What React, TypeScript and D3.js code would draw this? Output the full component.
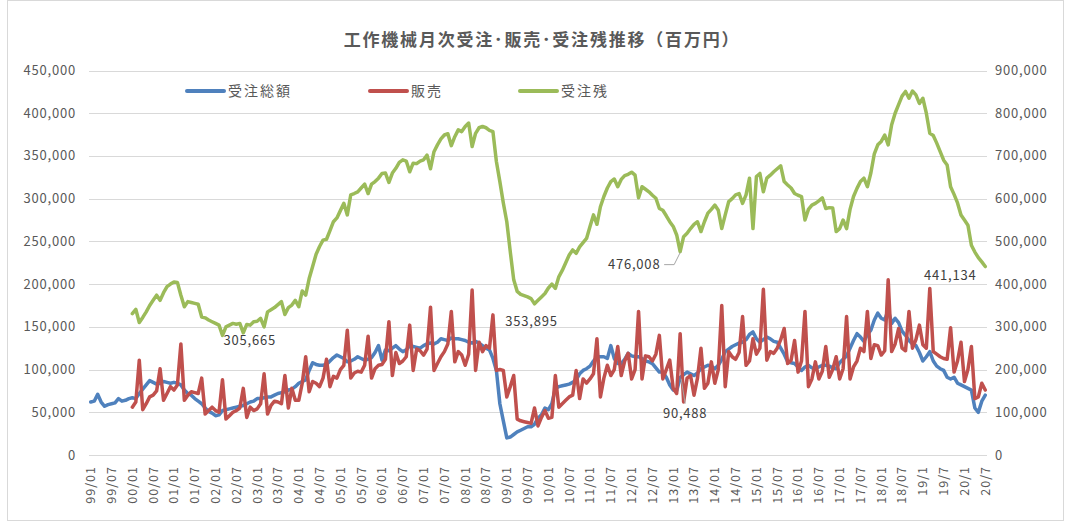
import React, { useEffect, useRef } from "react";
import * as d3 from "d3";

// 単位: 千(百万円)  -> 描画時に x1000
// 受注総額 1999/01 - 2020/07
const orders = [
  62, 63, 71, 62, 57, 59, 60, 61, 66, 63, 64, 66,
  67, 66, 72, 77, 82, 87, 85, 83, 84, 86, 85, 84,
  85, 84, 82, 76, 72, 70, 66, 63, 60, 55, 51, 49,
  46, 47, 52, 53, 54, 55, 56, 57, 58, 60, 62, 63,
  66, 66, 67, 68, 68, 70, 72, 73, 74, 76, 77, 80,
  84, 86, 88, 99, 108, 106, 105, 105, 106, 110, 114, 117,
  115, 113, 109, 110, 112, 115, 113, 111, 112, 114, 120, 128,
  111, 123, 122, 125, 128, 124, 121, 123, 128, 127, 126, 125,
  128, 130, 131, 130, 132, 136, 135, 134, 137, 136, 136, 135,
  134, 132, 131, 133, 131, 128, 125, 123, 113, 99, 60, 40,
  20, 21, 24, 27, 29, 31, 33, 33, 36, 43, 47, 55,
  53, 60, 78, 80, 81, 82, 83, 85, 88, 95, 99, 101,
  104, 110, 115, 115, 115, 113, 128, 113, 107, 107, 112, 119,
  116, 115, 115, 113, 110, 109, 107, 102, 97, 97, 91, 82,
  76, 75, 90.488, 94, 97, 95, 93, 96, 101, 103, 105, 104,
  101, 105, 112, 121, 124, 127, 129, 131, 132, 135, 141, 144,
  136, 132, 135, 138, 136, 133, 132, 125, 118, 109, 108, 107,
  103, 99, 103, 105, 102, 101, 103, 105, 105, 104, 102, 101,
  108, 112, 116, 125, 134, 142, 138, 133, 141, 146, 158, 166,
  160, 158, 170, 154, 160, 155, 145, 140, 134, 130, 128, 120,
  110, 115, 121, 110, 104, 101, 99, 91, 89, 91, 84, 82,
  80, 78, 76, 55, 50, 63, 70,
];

// 販売 2000/01 - 2020/07
const sales = [
  56, 62, 111, 53, 60, 68, 70, 75, 101, 64, 72, 80,
  76, 82, 130, 64, 70, 74, 73, 72, 90, 48, 52, 56,
  52, 50, 88, 42, 46, 50, 52, 55, 78, 44, 56, 52,
  54, 60, 95, 48, 58, 63, 62, 60, 93, 55, 78, 64,
  64, 84, 115, 74, 86, 84, 80, 90, 112, 80, 92, 90,
  100, 105, 146, 90, 96, 98, 97, 105, 139, 90, 101, 105,
  106, 112, 156, 93, 120, 107, 110, 115, 152, 99, 124, 122,
  117, 124, 173, 99, 107, 115, 121, 130, 168, 109, 121, 117,
  105, 118, 193, 99, 132, 121, 128, 125, 164, 99, 100, 99,
  68, 80, 93, 42, 40, 39, 38, 37, 55, 34, 44, 52,
  43, 44, 93, 56, 60, 64, 68, 70, 99, 66, 89, 84,
  89, 95, 136, 68, 90, 105, 93, 100, 127, 93, 110, 119,
  89, 100, 168, 89, 116, 115, 110, 118, 140, 89, 100, 111,
  78, 72, 142, 62, 90, 93, 70, 90, 125, 78, 84, 109,
  84, 100, 175, 80, 121, 115, 112, 120, 162, 105, 110, 136,
  118, 125, 194, 111, 121, 119, 125, 135, 148, 107, 111, 134,
  97, 110, 168, 80, 89, 109, 89, 98, 127, 91, 100, 115,
  89, 101, 162, 89, 103, 110, 125, 121, 168, 113, 129, 128,
  117, 122, 205, 121, 130, 148, 125, 122, 168, 125, 135, 152,
  129, 125, 195, 121, 118, 115, 113, 112, 149, 97, 110, 132,
  86, 100, 127, 66, 68, 84, 76,
];

// 受注残 2000/01 - 2020/07 (右軸)
const backlog = [
  331, 341, 310, 322, 335, 350, 362, 374, 362, 380, 394, 400,
  405, 404, 374, 347, 359, 357, 355, 353, 323, 321, 316, 312,
  308, 304, 280, 300, 304, 308, 306, 308, 286, 305.665, 304, 312,
  313, 320, 300, 335, 340, 345, 352, 359, 329, 345, 351, 362,
  347, 384, 374, 413, 441, 470, 488, 503, 505, 525, 546, 555,
  572, 589, 562, 609, 612, 616, 625, 634, 612, 634, 640, 648,
  659, 660, 638, 660, 671, 685, 691, 688, 663, 683, 682, 688,
  691, 702, 670, 710, 726, 740, 749, 752, 724, 745, 761, 757,
  769, 777, 722, 753, 766, 769, 766, 760, 757, 687, 640, 590,
  546, 476, 410, 383, 376, 373, 370, 366, 353.895, 362, 370, 378,
  391, 400, 390, 417, 432, 450, 468, 480, 472, 487, 497, 507,
  535, 562, 540, 581, 605, 625, 640, 646, 628, 645, 654, 657,
  662, 655, 602, 628, 622, 616, 608, 601, 577, 573, 560, 546,
  535, 515, 476.008, 511, 519, 530, 540, 546, 523, 546, 566, 575,
  585, 573, 530, 562, 593, 600, 609, 612, 589, 609, 648, 530,
  652, 659, 616, 648, 655, 663, 670, 677, 640, 632, 625, 612,
  608, 605, 550, 575, 585, 589, 595, 602, 577, 579, 578, 523,
  530, 550, 530, 575, 605, 624, 640, 648, 628, 660, 705, 726,
  734, 749, 726, 773, 800, 820, 840, 851, 835, 852, 843, 823,
  835, 800, 753, 748, 730, 710, 690, 679, 628, 610, 590, 562,
  550, 538, 491, 475, 462, 452, 441.134,
];

const SUB_START = 12; // 販売・受注残は 2000/01 から

const tickLabels = [
  "99/01", "99/07", "00/01", "00/07", "01/01", "01/07", "02/01", "02/07",
  "03/01", "03/07", "04/01", "04/07", "05/01", "05/07", "06/01", "06/07",
  "07/01", "07/07", "08/01", "08/07", "09/01", "09/07", "10/01", "10/07",
  "11/01", "11/07", "12/01", "12/07", "13/01", "13/07", "14/01", "14/07",
  "15/01", "15/07", "16/01", "16/07", "17/01", "17/07", "18/01", "18/07",
  "19/1", "19/7", "20/1", "20/7",
];

const leftTicks = [0, 50000, 100000, 150000, 200000, 250000, 300000, 350000, 400000, 450000];
const rightTicks = [0, 100000, 200000, 300000, 400000, 500000, 600000, 700000, 800000, 900000];

const seriesNames = ["受注総額", "販売", "受注残"];
const seriesColors = ["#4F81BD", "#C0504D", "#9BBB59"];

const title = "工作機械月次受注･販売･受注残推移（百万円）";

// data labels: series index, month index, text
const dataLabels = [
  { s: 2, i: 45, text: "305,665", dx: 3, dy: 16, leader: false },
  { s: 2, i: 128, text: "353,895", dx: -3, dy: 18, leader: false },
  { s: 2, i: 170, text: "476,008", dx: -46, dy: 13, leader: true },
  { s: 0, i: 170, text: "90,488", dx: 5, dy: 36, leader: true },
  { s: 2, i: 258, text: "441,134", dx: -35, dy: 9, leader: false },
];

const FONT = "'Noto Sans CJK JP', 'Noto Sans', sans-serif";

const App = () => {
  const svgRef = useRef<SVGSVGElement>(null);

  useEffect(() => {
    const W = 1071;
    const H = 522;
    const plot = { left: 89, right: 987, top: 70.5, bottom: 455 };

    const svg = d3.select(svgRef.current);
    svg.selectAll("*").remove();

    svg.append("rect").attr("width", W).attr("height", H).attr("fill", "#fff");
    svg
      .append("rect")
      .attr("x", 7.5)
      .attr("y", 0.5)
      .attr("width", 1056)
      .attr("height", 520)
      .attr("fill", "none")
      .attr("stroke", "#d9d9d9");

    const n = orders.length;
    const x = d3
      .scaleBand<number>()
      .domain(d3.range(n))
      .range([plot.left, plot.right]);
    const xc = (i: number) => (x(i) as number) + x.bandwidth() / 2;

    const yL = d3.scaleLinear().domain([0, 450000]).range([plot.bottom, plot.top]);
    const yR = d3.scaleLinear().domain([0, 900000]).range([plot.bottom, plot.top]);

    // gridlines
    svg
      .append("g")
      .selectAll("line")
      .data(leftTicks)
      .enter()
      .append("line")
      .attr("x1", plot.left)
      .attr("x2", plot.right)
      .attr("y1", (d) => Math.round(yL(d)) + 0.5)
      .attr("y2", (d) => Math.round(yL(d)) + 0.5)
      .attr("stroke", "#d9d9d9")
      .attr("stroke-width", 1);

    const fmt = d3.format(",");

    // left axis labels
    svg
      .append("g")
      .selectAll("text")
      .data(leftTicks)
      .enter()
      .append("text")
      .attr("x", 76)
      .attr("y", (d) => yL(d))
      .attr("dy", "0.35em")
      .attr("text-anchor", "end")
      .attr("font-family", FONT)
      .attr("font-size", 13)
      .attr("letter-spacing", 0.8)
      .attr("fill", "#595959")
      .text((d) => fmt(d));

    // right axis labels
    svg
      .append("g")
      .selectAll("text")
      .data(rightTicks)
      .enter()
      .append("text")
      .attr("x", 995)
      .attr("y", (d) => yR(d))
      .attr("dy", "0.35em")
      .attr("text-anchor", "start")
      .attr("font-family", FONT)
      .attr("font-size", 13)
      .attr("letter-spacing", 0.8)
      .attr("fill", "#595959")
      .text((d) => fmt(d));

    // x tick labels (every 6 months)
    svg
      .append("g")
      .selectAll("text")
      .data(tickLabels)
      .enter()
      .append("text")
      .attr("transform", (d, k) => `translate(${xc(k * 6)},466) rotate(-90)`)
      .attr("dy", "0.35em")
      .attr("text-anchor", "end")
      .attr("font-family", FONT)
      .attr("font-size", 12.5)
      .attr("letter-spacing", 1)
      .attr("fill", "#595959")
      .text((d) => d);

    // lines
    const lineL = d3
      .line<number>()
      .x((d, i) => xc(i))
      .y((d) => yL(d * 1000));
    const lineLSub = d3
      .line<number>()
      .x((d, i) => xc(i + SUB_START))
      .y((d) => yL(d * 1000));
    const lineR = d3
      .line<number>()
      .x((d, i) => xc(i + SUB_START))
      .y((d) => yR(d * 1000));

    const paths = [lineL(orders), lineLSub(sales), lineR(backlog)];
    paths.forEach((p, k) => {
      svg
        .append("path")
        .attr("d", p)
        .attr("fill", "none")
        .attr("stroke", seriesColors[k])
        .attr("stroke-width", 3.5)
        .attr("stroke-linejoin", "round")
        .attr("stroke-linecap", "round");
    });

    // data labels
    const values = [orders, sales, backlog];
    dataLabels.forEach((lb) => {
      const arr = values[lb.s];
      const idx = lb.s === 0 ? lb.i : lb.i - SUB_START;
      const v = arr[idx] * 1000;
      const px = xc(lb.i);
      const py = lb.s === 2 ? yR(v) : yL(v);
      const tx = px + lb.dx;
      const ty = py + lb.dy;
      if (lb.leader) {
        if (lb.s === 2) {
          svg
            .append("polyline")
            .attr("points", `${tx + 30},${ty} ${tx + 40},${ty} ${px},${py + 1}`)
            .attr("fill", "none")
            .attr("stroke", "#a6a6a6")
            .attr("stroke-width", 1);
        } else {
          svg
            .append("line")
            .attr("x1", tx)
            .attr("y1", ty - 10)
            .attr("x2", px + 1)
            .attr("y2", py + 1)
            .attr("stroke", "#a6a6a6")
            .attr("stroke-width", 1);
        }
      }
      svg
        .append("text")
        .attr("x", tx)
        .attr("y", ty)
        .attr("dy", "0.35em")
        .attr("text-anchor", "middle")
        .attr("font-family", FONT)
        .attr("font-size", 13)
        .attr("letter-spacing", 0.8)
        .attr("fill", "#404040")
        .text(lb.text);
    });

    // legend
    const legendX = [187, 370, 520];
    const legend = svg
      .append("g")
      .selectAll("g")
      .data(seriesNames)
      .enter()
      .append("g")
      .attr("transform", (d, k) => `translate(${legendX[k]},91)`);
    legend
      .append("line")
      .attr("x1", 0)
      .attr("x2", 37)
      .attr("stroke", (d, k) => seriesColors[k])
      .attr("stroke-width", 4)
      .attr("stroke-linecap", "round");
    legend
      .append("text")
      .attr("x", 41)
      .attr("dy", "0.35em")
      .attr("font-family", FONT)
      .attr("font-size", 14)
      .attr("letter-spacing", 2)
      .attr("fill", "#595959")
      .text((d) => d);

    // title
    svg
      .append("text")
      .attr("x", 542)
      .attr("y", 40)
      .attr("dy", "0.35em")
      .attr("text-anchor", "middle")
      .attr("font-family", FONT)
      .attr("font-size", 17)
      .attr("font-weight", "bold")
      .attr("letter-spacing", 1.8)
      .attr("fill", "#595959")
      .text(title);
  }, []);

  return (
    <svg
      ref={svgRef}
      width={1071}
      height={522}
      style={{ position: "absolute", left: 0, top: 0, display: "block" }}
    />
  );
};

export default App;
